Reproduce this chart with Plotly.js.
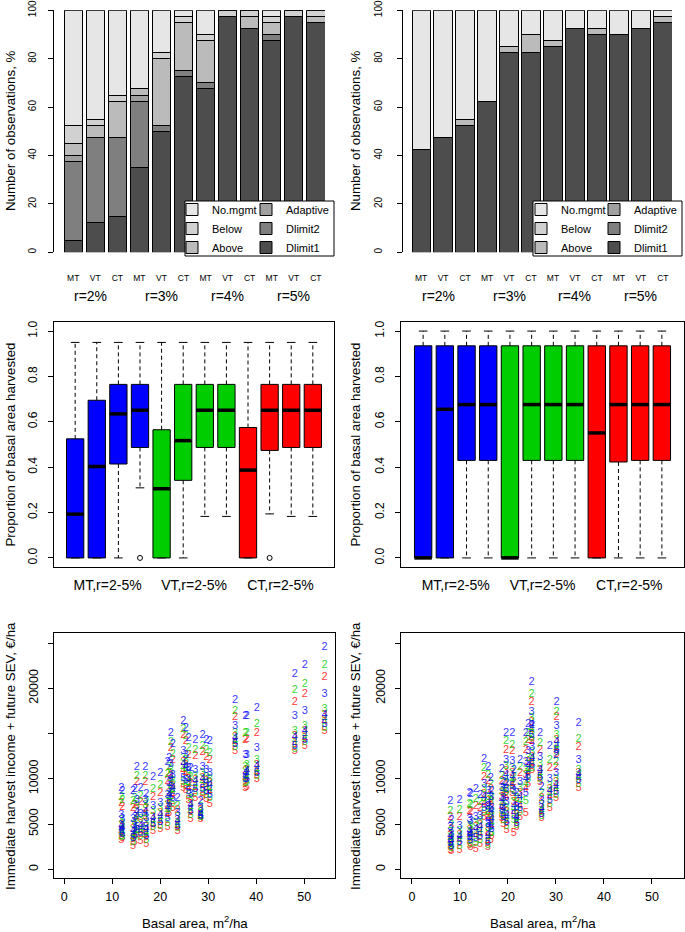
<!DOCTYPE html>
<html><head><meta charset="utf-8">
<script src="https://cdn.plot.ly/plotly-3.0.1.min.js"></script>
<style>html,body{margin:0;padding:0;background:#fff;}#chart{width:685px;height:932px;}</style>
</head><body><div id="chart"></div>
<script>
// ================= DATA =================
// --- top row: stacked bars (% of observations) ---
const barCats = ['MT','VT','CT','MT','VT','CT','MT','VT','CT','MT','VT','CT'];
const rateGroups = ['r=2%','r=3%','r=4%','r=5%'];
const mgmtNames = ['Dlimit1','Dlimit2','Adaptive','Above','Below','No.mgmt'];
const mgmtColors = ['#4D4D4D','#7F7F7F','#A0A0A0','#BBBBBB','#D1D1D1','#E6E6E6'];

const L_Dlimit1  = [5,12.5,15,35,50,72.5,67.5,97.5,92.5,87.5,97.5,95];
const L_Dlimit2  = [32.5,35,32.5,27.5,2.5,2.5,2.5,0,0,2.5,0,0];
const L_Adaptive = [2.5,0,0,2.5,0,0,0,0,0,0,0,0];
const L_Above    = [5,5,15,2.5,27.5,20,17.5,0,5,5,0,2.5];
const L_Below    = [7.5,2.5,2.5,0,2.5,2.5,2.5,2.5,2.5,2.5,2.5,2.5];
const L_NoMgmt   = [47.5,45,35,32.5,17.5,2.5,10,0,0,2.5,0,0];

const R_Dlimit1  = [42.5,47.5,52.5,62.5,82.5,82.5,85,92.5,90,90,92.5,95];
const R_Dlimit2  = [0,0,0,0,0,0,0,0,0,0,0,0];
const R_Adaptive = [0,0,0,0,0,0,0,0,0,0,0,0];
const R_Above    = [0,0,2.5,0,2.5,7.5,2.5,0,2.5,0,0,2.5];
const R_Below    = [0,0,0,0,0,0,0,0,0,0,0,0];
const R_NoMgmt   = [57.5,52.5,45,37.5,15,10,12.5,7.5,7.5,10,7.5,2.5];

// --- middle row: box plots (proportion of basal area harvested) ---
const boxGroups = ['MT,r=2-5%','VT,r=2-5%','CT,r=2-5%'];
const boxColors = ['#0000FF','#00CD00','#FF0000'];
const LB_hi  = [0.95,0.95,0.95,0.95,0.95,0.95,0.95,0.95,0.95,0.95,0.95,0.95];
const LB_q3  = [0.525,0.695,0.765,0.765,0.565,0.765,0.765,0.765,0.575,0.765,0.765,0.765];
const LB_med = [0.193,0.403,0.635,0.651,0.305,0.517,0.651,0.651,0.387,0.651,0.651,0.651];
const LB_q1  = [0,0,0.414,0.487,0,0.342,0.487,0.487,0,0.474,0.487,0.487];
const LB_lo  = [0,0,0,0.309,0,0,0.183,0.183,0,0.194,0.183,0.183];
const LB_outX = [4,10];
const LB_outY = [0,0];

const RB_hi  = [1,1,1,1,1,1,1,1,1,1,1,1];
const RB_q3  = [0.935,0.935,0.935,0.935,0.935,0.935,0.935,0.935,0.935,0.935,0.935,0.935];
const RB_med = [0,0.655,0.676,0.676,0,0.676,0.676,0.676,0.551,0.676,0.676,0.676];
const RB_q1  = [0,0,0.43,0.43,0,0.43,0.43,0.43,0,0.423,0.43,0.43];
const RB_lo  = [0,0,0,0,0,0,0,0,0,0,0,0];
const RB_outX = [];
const RB_outY = [];

// --- bottom row: value (EUR/ha) vs basal area, label = interest rate ---
const rateLabels = ['2','3','4','5'];
const L_ba  = [11.9,12.1,14.3,14.7,15.1,15.9,16.9,17.1,18.5,20.0,21.5,21.8,22.2,22.6,23.6,24.8,25.3,25.9,26.3,27.3,28.4,28.8,29.6,30.3,35.6,37.7,38.0,40.1,48.0,50.1,54.2];
const L_MT2 = [9000,8600,8600,8800,11300,9000,11300,8300,10200,10600,11800,12300,15000,13800,7800,16400,15600,14500,11200,14300,7500,14800,14300,14200,18700,16900,16900,17800,21600,22500,24500];
const L_VT2 = [8000,7600,7500,7800,10300,8100,10300,7400,8900,9300,10500,11300,14000,12700,7000,15500,14700,13400,10200,13200,6900,13600,13100,12800,17500,15000,15000,16000,19800,20500,22500];
const L_CT2 = [7300,6900,6800,7100,9600,7400,9600,6800,8000,8400,9700,10600,13400,12000,6500,14800,14100,12600,9500,12500,6500,12900,12400,12100,16800,14300,14400,15000,18500,19300,21200];
const L_MT3 = [6000,5500,5500,5800,7600,6100,7600,5600,7000,7300,8200,9500,11600,10400,6200,13000,12600,11200,8300,11000,6600,11300,10900,10600,15800,12600,12600,13400,16900,17500,19300];
const L_VT3 = [5400,5000,4900,5200,7000,5500,7100,5100,6400,6700,7600,8900,10900,9700,5800,12300,12000,10500,7700,10300,6300,10600,10200,10000,15000,11300,11500,12000,15200,15800,17700];
const L_CT3 = [4900,4600,4400,4800,6500,5000,6600,4700,5800,6200,7100,8400,10300,9200,5400,11800,11500,9900,7200,9800,6000,10100,9700,9500,14600,10800,11000,11500,14700,15300,17000];
const L_MT4 = [4800,4500,4200,4600,6300,4800,6300,4400,5600,6000,6800,8200,10200,9000,5300,11600,11300,9800,7100,9700,6000,10000,9600,9300,14500,10600,10800,11400,14600,15200,17000];
const L_VT4 = [4400,4100,3800,4200,5900,4400,6000,4000,5300,5600,6400,7800,9800,8600,5000,11200,10900,9400,6700,9300,5800,9600,9200,8900,14200,10300,10500,11000,14200,14800,16600];
const L_CT4 = [4100,3800,3400,3900,5600,4100,5600,3600,4900,5200,6000,7300,9300,8200,4700,10800,10500,9000,6300,8900,5600,9200,8800,8500,13900,10000,10100,10600,13800,14400,16200];
const L_MT5 = [4100,3900,3400,3800,4700,4000,4600,3600,5000,5200,5600,7200,9100,7800,4800,10100,9800,8600,6400,8800,5900,8900,8600,8200,13800,9900,10000,10600,13600,14300,16000];
const L_VT5 = [3700,3500,3000,3500,4300,3600,4200,3200,4600,4800,5100,6800,8700,7300,4500,9600,9300,8200,6000,8400,5700,8500,8200,7800,13500,9500,9600,10300,13300,14000,15600];
const L_CT5 = [3200,3400,2600,3000,3900,3100,3800,2800,4200,4400,4600,6200,8000,6800,4200,9000,8700,7600,5500,7900,5500,8000,7700,7200,13000,9000,9100,9900,13000,13600,15200];

const R_ba  = [8.0,8.2,9.9,12.0,12.2,13.3,14.2,15.0,15.9,15.8,16.4,16.6,18.7,19.0,19.6,19.7,20.9,21.2,21.8,22.5,23.7,24.2,24.9,25.0,26.7,27.0,28.7,30.1,30.0,34.7];
const R_MT2 = [7500,5400,7600,8400,8300,8800,8200,12200,11300,7000,10100,8600,11100,9600,15000,9500,15000,11000,8400,12100,15000,16000,20700,15900,15000,9100,13600,18500,12600,16100];
const R_VT2 = [6400,4900,6500,7200,7100,7700,7400,11200,10400,6400,9400,8000,10300,9000,14100,8800,13700,10200,7900,11300,14000,15000,19300,14800,13900,8400,12100,17400,11800,14400];
const R_CT2 = [5800,4400,5800,6400,6300,7000,6800,10200,9700,5900,8800,7500,9700,8500,13200,8200,13000,9600,7400,10600,13200,14300,18500,14200,13200,7900,11200,16800,11300,13500];
const R_MT3 = [4700,3900,4800,5500,5300,5800,5900,9400,8600,5000,8000,6800,9000,7800,12100,7400,11900,8600,6900,9600,11800,13000,17400,13500,12400,7500,9900,15800,10600,12100];
const R_VT3 = [4100,3500,4200,4800,4600,5100,5300,8800,8000,4500,7500,6300,8500,7300,11400,6800,11200,8000,6400,9000,11000,12300,16700,12900,11600,7100,9200,14800,10000,11000];
const R_CT3 = [3800,3200,3800,4300,4100,4600,4900,8300,7500,4100,7000,5900,8000,6900,10800,6300,10600,7400,6000,8400,10400,11800,16200,12400,11000,6800,8800,14300,9600,10600];
const R_MT4 = [3600,3100,3700,4200,3900,4400,4600,8000,7100,3800,6400,5500,7600,6600,10400,6000,10200,7000,5800,8000,9900,11400,15900,12300,10900,6600,8600,14000,9300,10500];
const R_VT4 = [3300,2800,3400,3900,3600,4000,4200,7600,6600,3400,5900,5100,7200,6200,9900,5600,9800,6600,5500,7500,9400,11000,15500,12000,10500,6400,8300,13600,9000,10200];
const R_CT4 = [3000,2500,3100,3600,3300,3600,3900,7200,6100,3000,5400,4800,6800,5800,9400,5200,9300,6200,5200,7000,8900,10600,15200,11600,10200,6200,8000,13300,8700,9900];
const R_MT5 = [2900,2600,3000,3500,3200,3400,3600,6800,5200,3000,4600,4400,6600,5800,8900,5200,9200,6000,5100,6800,8400,10300,14800,11500,10200,6100,7600,13100,8500,9800];
const R_VT5 = [2500,2300,2600,3100,2800,2900,3200,6300,4500,2700,4000,4000,6100,5400,8500,4800,8800,5400,4900,6300,7500,9900,14500,11200,9900,5900,7200,12900,8200,9400];
const R_CT5 = [2100,2000,2100,2700,2400,2200,2800,5800,3600,2400,3200,3600,5600,5000,8000,4300,8400,4000,4700,5800,6200,9400,14100,10900,9600,5600,6800,12700,7900,9000];

const yTickVals = [0,5000,10000,15000,20000,25000];
const yTickText = ['0','5000','10000','','20000',''];
const siteTextColors = {MT:'rgba(0,0,255,0.8)', VT:'rgba(0,205,0,0.8)', CT:'rgba(255,0,0,0.8)'};

// ================= BUILD =================
const W = 685, H = 932;
const fx = p => p / W, fy = p => 1 - p / H;
const FONT = 'Liberation Sans, Arial, Helvetica, sans-serif';
const traces = [];

const barX = barCats.map((_, i) => i);
const legendSlot = {'No.mgmt':[0,1],'Below':[0,2],'Above':[0,3],'Adaptive':[1,1],'Dlimit2':[1,2],'Dlimit1':[1,3]};
function addBars(series, xa, ya, legs) {
  series.forEach((vals, k) => {
    const nm = mgmtNames[k];
    const slot = legendSlot[nm];
    traces.push({type:'bar', x:barX, y:vals, name:nm, xaxis:xa, yaxis:ya, width:1/1.2,
      marker:{color:mgmtColors[k], line:{color:'#000', width:1}},
      legend:legs[slot[0]], legendrank:slot[1], showlegend:true, hoverinfo:'skip'});
  });
}
addBars([L_Dlimit1,L_Dlimit2,L_Adaptive,L_Above,L_Below,L_NoMgmt], 'x', 'y', ['legend','legend2']);
addBars([R_Dlimit1,R_Dlimit2,R_Adaptive,R_Above,R_Below,R_NoMgmt], 'x2', 'y2', ['legend3','legend4']);

function addBoxes(q1, med, q3, lo, hi, outX, outY, xa, ya) {
  for (let g = 0; g < 3; g++) {
    const idx = [0,1,2,3].map(j => g*4 + j);
    traces.push({type:'box', orientation:'v', x:idx.map(i => i+1),
      q1:idx.map(i => q1[i]), median:idx.map(i => med[i]), q3:idx.map(i => q3[i]),
      lowerfence:idx.map(i => q1[i]), upperfence:idx.map(i => q3[i]),
      width:0.8, fillcolor:boxColors[g], line:{color:'#000', width:1}, whiskerwidth:0,
      boxpoints:false, xaxis:xa, yaxis:ya, showlegend:false, hoverinfo:'skip'});
  }
  const wx=[], wy=[], cx=[], cy=[], mx=[], my=[];
  q1.forEach((_, i) => {
    const p = i + 1;
    wx.push(p, p, null, p, p, null); wy.push(q3[i], hi[i], null, q1[i], lo[i], null);
    cx.push(p-0.2, p+0.2, null, p-0.2, p+0.2, null); cy.push(hi[i], hi[i], null, lo[i], lo[i], null);
    mx.push(p-0.4, p+0.4, null); my.push(med[i], med[i], null);
  });
  traces.push({type:'scatter', mode:'lines', x:wx, y:wy, xaxis:xa, yaxis:ya, line:{color:'#000', width:1, dash:'4px,3px'}, showlegend:false, hoverinfo:'skip'});
  traces.push({type:'scatter', mode:'lines', x:cx, y:cy, xaxis:xa, yaxis:ya, line:{color:'#000', width:1}, showlegend:false, hoverinfo:'skip'});
  traces.push({type:'scatter', mode:'lines', x:mx, y:my, xaxis:xa, yaxis:ya, line:{color:'#000', width:3.5}, showlegend:false, hoverinfo:'skip'});
  if (outX.length) traces.push({type:'scatter', mode:'markers', x:outX, y:outY, xaxis:xa, yaxis:ya,
    marker:{symbol:'circle-open', size:5, color:'#000', line:{width:1}}, showlegend:false, hoverinfo:'skip'});
}
addBoxes(LB_q1, LB_med, LB_q3, LB_lo, LB_hi, LB_outX, LB_outY, 'x3', 'y3');
addBoxes(RB_q1, RB_med, RB_q3, RB_lo, RB_hi, RB_outX, RB_outY, 'x4', 'y4');

function addText(ba, sets, xa, ya) {
  sets.forEach(s => {
    const x = [], y = [], t = [];
    s.vals.forEach((arr, r) => arr.forEach((v, i) => { x.push(ba[i]); y.push(v); t.push(rateLabels[r]); }));
    traces.push({type:'scatter', mode:'text', x:x, y:y, text:t, textposition:'middle center',
      textfont:{family:FONT, size:11, color:siteTextColors[s.site]}, xaxis:xa, yaxis:ya,
      showlegend:false, hoverinfo:'skip', cliponaxis:false});
  });
}
addText(L_ba, [
  {site:'CT', vals:[L_CT2,L_CT3,L_CT4,L_CT5]},
  {site:'VT', vals:[L_VT2,L_VT3,L_VT4,L_VT5]},
  {site:'MT', vals:[L_MT2,L_MT3,L_MT4,L_MT5]}], 'x5', 'y5');
addText(R_ba, [
  {site:'CT', vals:[R_CT2,R_CT3,R_CT4,R_CT5]},
  {site:'VT', vals:[R_VT2,R_VT3,R_VT4,R_VT5]},
  {site:'MT', vals:[R_MT2,R_MT3,R_MT4,R_MT5]}], 'x6', 'y6');

// ================= LAYOUT =================
const noGrid = {showgrid:false, zeroline:false};
const barXAxis = (d, ya) => Object.assign({domain:d, range:[-0.4167, 11.4167], anchor:ya, showline:false,
  ticks:'', tickvals:barX, ticktext:barCats, tickfont:{size:8.5}, ticklabelstandoff:19}, noGrid);
const barYAxis = (pos, xa, stand) => Object.assign({domain:[fy(252.3), fy(10.3)], range:[0,100], anchor:'free', position:pos,
  showline:true, linecolor:'#000', linewidth:1, ticks:'outside', ticklen:5, tickcolor:'#000',
  tickvals:[0,20,40,60,80,100], tickangle:-90, tickfont:{size:10}, ticklabelstandoff:stand}, noGrid);
const frameAxis = o => Object.assign({showline:true, mirror:true, linecolor:'#000', linewidth:1}, noGrid, o);

const boxY = {domain:[fy(567), fy(322)], range:[-0.04, 1.04], ticks:'outside', ticklen:5, tickcolor:'#000',
  tickvals:[0,0.2,0.4,0.6,0.8,1.0], ticktext:['0.0','0.2','0.4','0.6','0.8','1.0'], tickangle:-90, tickfont:{size:12}, ticklabelstandoff:6};
const boxX = {ticks:'', tickvals:[2.5,6.5,10.5], ticktext:boxGroups, tickfont:{size:14}, ticklabelstandoff:5};
const scY = {domain:[fy(878), fy(633)], range:[-961, 26110], ticks:'outside', ticklen:5, tickcolor:'#000',
  tickvals:yTickVals, ticktext:yTickText, tickangle:-90, tickfont:{size:12.5}, ticklabelstandoff:5};
const scX = {ticks:'outside', ticklen:5, tickcolor:'#000', tickvals:[0,10,20,30,40,50], tickfont:{size:12.5}, ticklabelstandoff:2};

const legBase = (x) => ({x:fx(x), y:fy(195), xanchor:'left', yanchor:'top', orientation:'v', traceorder:'normal',
  bgcolor:'rgba(0,0,0,0)', borderwidth:0, font:{family:FONT, size:11, color:'#000'}, tracegroupgap:0,
  itemclick:false, itemdoubleclick:false});

const annotations = [];
const titleAnn = (text, x, y, angle) => annotations.push({text:text, xref:'paper', yref:'paper', x:fx(x), y:fy(y),
  xanchor:'center', yanchor:'middle', showarrow:false, textangle:angle, font:{family:FONT, size:13.3, color:'#000'}});
titleAnn('Number of observations, %', 10, 131, -90);
titleAnn('Number of observations, %', 355, 131, -90);
titleAnn('Proportion of basal area harvested', 10, 444.5, -90);
titleAnn('Proportion of basal area harvested', 355, 444.5, -90);
titleAnn('Immediate harvest income + future SEV, €/ha', 10, 756, -90);
titleAnn('Immediate harvest income + future SEV, €/ha', 355, 756, -90);
titleAnn('Basal area, m<sup>2</sup>/ha', 194.5, 922, 0);
titleAnn('Basal area, m<sup>2</sup>/ha', 542.5, 922, 0);
const groupPos = [0.8, 4, 7, 10];
['x','x2'].forEach(xa => rateGroups.forEach((g, i) => annotations.push({text:g, xref:xa, yref:'paper', x:groupPos[i], y:fy(296),
  xanchor:'center', yanchor:'middle', showarrow:false, font:{family:FONT, size:14, color:'#000'}})));

const layout = {
  width:W, height:H, margin:{l:0, r:0, t:0, b:0}, paper_bgcolor:'#fff', plot_bgcolor:'rgba(0,0,0,0)',
  font:{family:FONT, color:'#000', size:12}, barmode:'stack', boxmode:'overlay', hovermode:false, showlegend:true,
  xaxis:barXAxis([fx(64), fx(325)], 'y'), yaxis:barYAxis(fx(53), 'x', 8),
  xaxis2:barXAxis([fx(412), fx(672)], 'y2'), yaxis2:barYAxis(fx(402), 'x2', 11),
  xaxis3:frameAxis(Object.assign({domain:[fx(54), fx(334)], range:[0.02, 12.98], anchor:'y3'}, boxX)),
  yaxis3:frameAxis(Object.assign({anchor:'x3'}, boxY)),
  xaxis4:frameAxis(Object.assign({domain:[fx(401), fx(684)], range:[-0.02, 13.02], anchor:'y4'}, boxX)),
  yaxis4:frameAxis(Object.assign({anchor:'x4'}, boxY)),
  xaxis5:frameAxis(Object.assign({domain:[fx(54), fx(335)], range:[-2.15, 56.4], anchor:'y5'}, scX)),
  yaxis5:frameAxis(Object.assign({anchor:'x5'}, scY)),
  xaxis6:frameAxis(Object.assign({domain:[fx(401), fx(684)], range:[-2.29, 56.67], anchor:'y6'}, scX)),
  yaxis6:frameAxis(Object.assign({anchor:'x6'}, scY)),
  legend:legBase(172), legend2:legBase(246), legend3:legBase(521), legend4:legBase(594),
  shapes:[
    {type:'rect', xref:'paper', yref:'paper', x0:fx(185), x1:fx(334), y0:fy(256), y1:fy(201), fillcolor:'#fff', line:{color:'#000', width:1}, layer:'above'},
    {type:'rect', xref:'paper', yref:'paper', x0:fx(533), x1:fx(682), y0:fy(256), y1:fy(201), fillcolor:'#fff', line:{color:'#000', width:1}, layer:'above'}
  ],
  annotations:annotations
};

Plotly.newPlot('chart', traces, layout, {staticPlot:true, displayModeBar:false});
</script>
</body></html>
